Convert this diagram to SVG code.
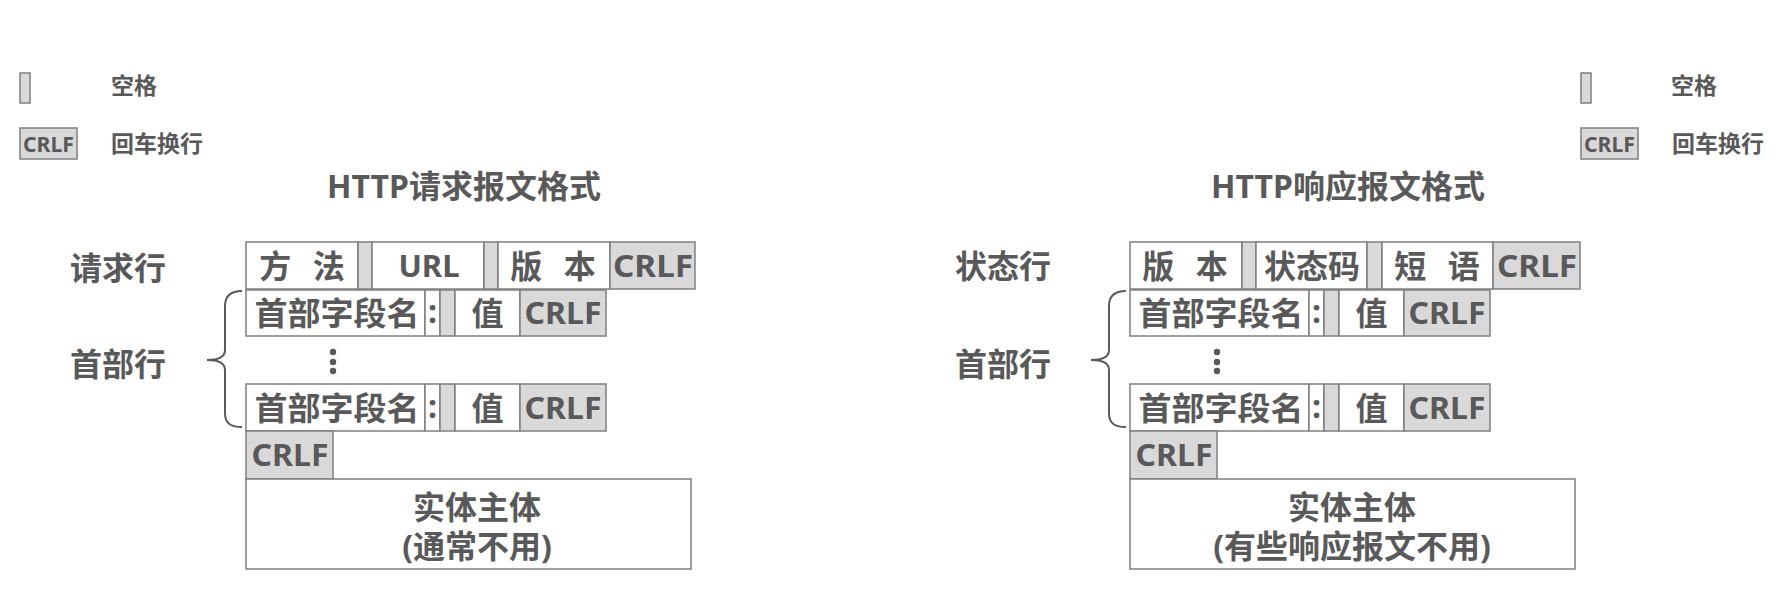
<svg xmlns="http://www.w3.org/2000/svg" width="1786" height="594" viewBox="0 0 1786 594">
<style>
.t{font-family:"Noto Sans","Noto Sans CJK SC",sans-serif;font-weight:bold;fill:#595959;text-anchor:middle}
.l{text-anchor:start}
.f32{font-size:32px}
.f31{font-size:31px}
.f23{font-size:23px}
.f22{font-size:22px}
.box{fill:#ffffff;stroke:#7f7f7f;stroke-width:1.5}
.sp{fill:#d9d9d9;stroke:#7f7f7f;stroke-width:1.5}
.brace{fill:none;stroke:#595959;stroke-width:2}
.dot{fill:#595959}
</style>
<rect width="1786" height="594" fill="#ffffff"/>

<!-- Legends -->
<g id="legend-left">
  <rect class="sp" x="20" y="73" width="10" height="30"/>
  <text class="t l f23" x="111" y="94">空格</text>
  <rect class="sp" x="20" y="128" width="57" height="31"/>
  <text class="t f22" x="48.5" y="151.5" textLength="51" lengthAdjust="spacingAndGlyphs">CRLF</text>
  <text class="t l f23" x="111" y="152">回车换行</text>
</g>
<g id="legend-right">
  <rect class="sp" x="1581" y="73" width="10" height="30"/>
  <text class="t l f23" x="1671" y="94">空格</text>
  <rect class="sp" x="1581" y="128" width="57" height="31"/>
  <text class="t f22" x="1609.5" y="151.5" textLength="51" lengthAdjust="spacingAndGlyphs">CRLF</text>
  <text class="t l f23" x="1672" y="152">回车换行</text>
</g>

<!-- Titles -->
<g id="title-request"><text class="t f32" x="464" y="198">HTTP请求报文格式</text></g>
<g id="title-response"><text class="t f32" x="1348" y="198">HTTP响应报文格式</text></g>

<!-- Side labels -->
<g id="label-request-line"><text class="t l f32" x="70" y="280">请求行</text></g>
<g id="label-header-left"><text class="t l f32" x="70" y="376">首部行</text></g>
<g id="label-status-line"><text class="t l f32" x="955" y="278">状态行</text></g>
<g id="label-header-right"><text class="t l f32" x="955" y="376">首部行</text></g>

<!-- Braces -->
<g id="connectors">
  <path class="brace" d="M242 291 C229 291 225 297 225 306 L225 350 C225 356 219 360 207 360 C219 360 225 364 225 370 L225 413 C225 422 229 427 242 427"/>
  <path class="brace" d="M1126 291 C1113 291 1109 297 1109 306 L1109 350 C1109 356 1103 360 1091 360 C1103 360 1109 364 1109 370 L1109 413 C1109 422 1113 427 1126 427"/>
</g>

<!-- Request message -->
<g id="request-line">
  <rect class="box" x="246" y="242" width="112" height="47"/>
  <text class="t f32" x="302" y="278" word-spacing="13">方 法</text>
  <rect class="sp" x="358" y="242" width="14" height="47"/>
  <rect class="box" x="372" y="242" width="112" height="47"/>
  <text class="t f31" x="429" y="277">URL</text>
  <rect class="sp" x="484" y="242" width="14" height="47"/>
  <rect class="box" x="498" y="242" width="112" height="47"/>
  <text class="t f32" x="553" y="278" word-spacing="13">版 本</text>
  <rect class="sp" x="610" y="242" width="85" height="47"/>
  <text class="t f31" x="653" y="277" textLength="80" lengthAdjust="spacingAndGlyphs">CRLF</text>
</g>
<g id="request-header-1">
  <rect class="box" x="246" y="290" width="179" height="46"/>
  <text class="t f32" x="337" y="325" textLength="165" lengthAdjust="spacingAndGlyphs">首部字段名</text>
  <rect class="box" x="425" y="290" width="15" height="46"/>
  <text class="t f32" x="432.5" y="323">:</text>
  <rect class="sp" x="440" y="290" width="15" height="46"/>
  <rect class="box" x="455" y="290" width="65" height="46"/>
  <text class="t f32" x="487.5" y="325">值</text>
  <rect class="sp" x="520" y="290" width="86" height="46"/>
  <text class="t f31" x="563" y="324" textLength="77" lengthAdjust="spacingAndGlyphs">CRLF</text>
</g>
<g id="request-ellipsis">
  <circle class="dot" cx="333" cy="352" r="3.2"/>
  <circle class="dot" cx="333" cy="362" r="3.2"/>
  <circle class="dot" cx="333" cy="371" r="3.2"/>
</g>
<g id="request-header-2">
  <rect class="box" x="246" y="384" width="179" height="47"/>
  <text class="t f32" x="337" y="420" textLength="165" lengthAdjust="spacingAndGlyphs">首部字段名</text>
  <rect class="box" x="425" y="384" width="15" height="47"/>
  <text class="t f32" x="432.5" y="418">:</text>
  <rect class="sp" x="440" y="384" width="15" height="47"/>
  <rect class="box" x="455" y="384" width="65" height="47"/>
  <text class="t f32" x="487.5" y="420">值</text>
  <rect class="sp" x="520" y="384" width="86" height="47"/>
  <text class="t f31" x="563" y="419" textLength="77" lengthAdjust="spacingAndGlyphs">CRLF</text>
</g>
<g id="request-crlf">
  <rect class="sp" x="246" y="431" width="87" height="48"/>
  <text class="t f31" x="290" y="466" textLength="77" lengthAdjust="spacingAndGlyphs">CRLF</text>
</g>
<g id="request-body">
  <rect class="box" x="246" y="479" width="445" height="90"/>
  <text class="t f32" x="477" y="519">实体主体</text>
  <text class="t f32" x="477" y="558">(通常不用)</text>
</g>

<!-- Response message -->
<g id="status-line">
  <rect class="box" x="1130" y="242" width="112" height="47"/>
  <text class="t f32" x="1185" y="278" word-spacing="13">版 本</text>
  <rect class="sp" x="1242" y="242" width="14" height="47"/>
  <rect class="box" x="1256" y="242" width="111" height="47"/>
  <text class="t f32" x="1312" y="278">状态码</text>
  <rect class="sp" x="1367" y="242" width="15" height="47"/>
  <rect class="box" x="1382" y="242" width="111" height="47"/>
  <text class="t f32" x="1437" y="278" word-spacing="13">短 语</text>
  <rect class="sp" x="1493" y="242" width="87" height="47"/>
  <text class="t f31" x="1537" y="277" textLength="80" lengthAdjust="spacingAndGlyphs">CRLF</text>
</g>
<g id="response-header-1">
  <rect class="box" x="1130" y="290" width="179" height="46"/>
  <text class="t f32" x="1221" y="325" textLength="165" lengthAdjust="spacingAndGlyphs">首部字段名</text>
  <rect class="box" x="1309" y="290" width="15" height="46"/>
  <text class="t f32" x="1316.5" y="323">:</text>
  <rect class="sp" x="1324" y="290" width="15" height="46"/>
  <rect class="box" x="1339" y="290" width="65" height="46"/>
  <text class="t f32" x="1371.5" y="325">值</text>
  <rect class="sp" x="1404" y="290" width="86" height="46"/>
  <text class="t f31" x="1447" y="324" textLength="77" lengthAdjust="spacingAndGlyphs">CRLF</text>
</g>
<g id="response-ellipsis">
  <circle class="dot" cx="1217" cy="352" r="3.2"/>
  <circle class="dot" cx="1217" cy="362" r="3.2"/>
  <circle class="dot" cx="1217" cy="371" r="3.2"/>
</g>
<g id="response-header-2">
  <rect class="box" x="1130" y="384" width="179" height="47"/>
  <text class="t f32" x="1221" y="420" textLength="165" lengthAdjust="spacingAndGlyphs">首部字段名</text>
  <rect class="box" x="1309" y="384" width="15" height="47"/>
  <text class="t f32" x="1316.5" y="418">:</text>
  <rect class="sp" x="1324" y="384" width="15" height="47"/>
  <rect class="box" x="1339" y="384" width="65" height="47"/>
  <text class="t f32" x="1371.5" y="420">值</text>
  <rect class="sp" x="1404" y="384" width="86" height="47"/>
  <text class="t f31" x="1447" y="419" textLength="77" lengthAdjust="spacingAndGlyphs">CRLF</text>
</g>
<g id="response-crlf">
  <rect class="sp" x="1130" y="431" width="87" height="48"/>
  <text class="t f31" x="1174" y="466" textLength="77" lengthAdjust="spacingAndGlyphs">CRLF</text>
</g>
<g id="response-body">
  <rect class="box" x="1130" y="479" width="445" height="90"/>
  <text class="t f32" x="1352" y="519">实体主体</text>
  <text class="t f32" x="1352" y="558">(有些响应报文不用)</text>
</g>
</svg>
